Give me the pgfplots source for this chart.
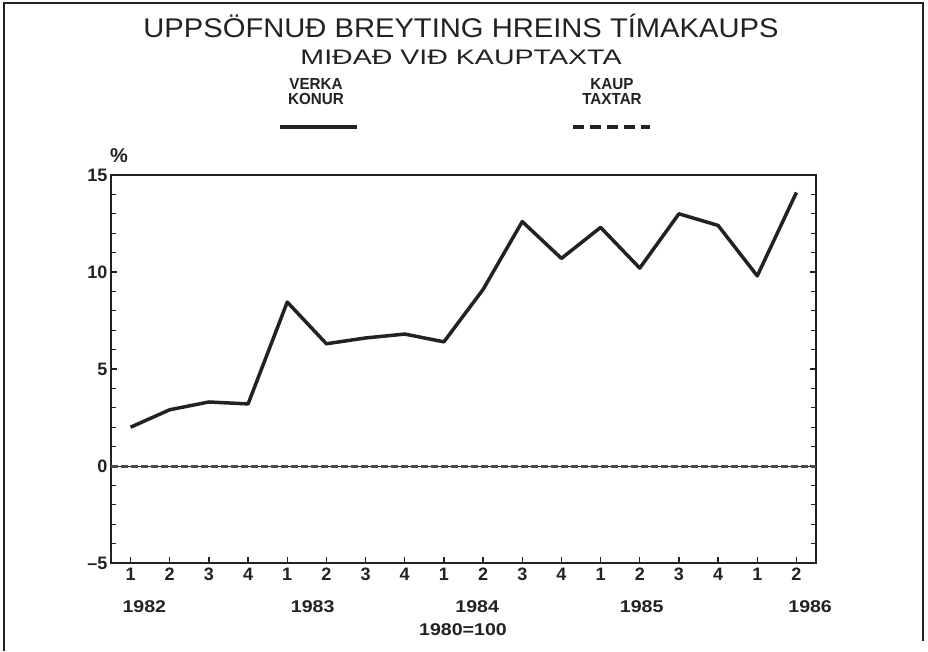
\documentclass[border=0pt]{standalone}
\usepackage{pgfplots}
\pgfplotsset{compat=1.18}
\usepackage{fontspec}
\setmainfont{Liberation Sans}
\definecolor{ink}{HTML}{222222}
\begin{document}
\begin{tikzpicture}
\path[use as bounding box] (0pt,0pt) rectangle (928pt,651pt);
\draw[line width=1.3pt, ink] (4pt,0pt) -- (4pt,648pt) -- (923pt,648pt) -- (923pt,10pt);
\node[font=\fontsize{27}{27}\selectfont, ink] at (461pt,625pt) {\scalebox{1.08}[1]{UPPSÖFNUÐ BREYTING HREINS TÍMAKAUPS}};
\node[font=\fontsize{21}{21}\selectfont, ink] at (461pt,594pt) {\scalebox{1.36}[1]{MIÐAÐ VIÐ KAUPTAXTA}};
\node[font=\fontsize{16}{15}\selectfont\bfseries, ink, align=center, inner sep=0pt] at (316pt,559pt) {\scalebox{0.95}[1]{VERKA}\\\scalebox{0.95}[1]{KONUR}};
\node[font=\fontsize{16}{15}\selectfont\bfseries, ink, align=center, inner sep=0pt] at (612pt,559pt) {\scalebox{0.95}[1]{KAUP}\\\scalebox{0.95}[1]{TAXTAR}};
\draw[line width=3.5pt, ink] (280pt,524pt) -- (357pt,524pt);
\draw[line width=3.5pt, ink, dash pattern=on 11pt off 6pt] (573pt,524pt) -- (650pt,524pt);
\node[font=\fontsize{20}{20}\selectfont\bfseries, ink] at (119pt,495pt) {\%};
\node[font=\fontsize{17}{17}\selectfont\bfseries, ink] at (463pt,21pt) {\scalebox{1.15}[1]{1980=100}};
\begin{axis}[
  at={(111pt,88pt)}, anchor=south west, scale only axis,
  width=705pt, height=388pt,
  xmin=0.5, xmax=18.5, ymin=-5, ymax=15,
  xtick={1,...,18},
  xticklabels={1,2,3,4,1,2,3,4,1,2,3,4,1,2,3,4,1,2},
  ytick={-5,0,5,10,15},
  yticklabels={--5,0,5,10,15},
  minor ytick={-4,-3,-2,-1,1,2,3,4,6,7,8,9,11,12,13,14},
  xtick pos=lower, ytick pos=both,
  tick align=inside,
  major tick length=6pt, minor tick length=5pt,
  axis line style={line width=1.6pt, ink},
  every tick/.style={line width=1.2pt, ink},
  tick label style={font=\fontsize{18}{18}\selectfont\bfseries, text=ink},
  /pgf/number format/assume math mode=true,
  xticklabel style={yshift=-1pt, text height=13pt, text depth=0pt},
  yticklabel style={xshift=0pt},
  clip=false,
]
\addplot[line width=1pt, ink] coordinates {(0.5,0) (18.5,0)};
\addplot[line width=3pt, gray!60!black, dash pattern=on 7pt off 3pt] coordinates {(0.5,0) (18.5,0)};
\addplot[line width=3.5pt, ink, line join=round] coordinates {
(1,2.0) (2,2.9) (3,3.3) (4,3.2)
(5,8.45) (6,6.3) (7,6.6) (8,6.8)
(9,6.4) (10,9.1) (11,12.6) (12,10.7)
(13,12.3) (14,10.2) (15,13.0) (16,12.4)
(17,9.8) (18,14.1)};
\foreach \yr/\xx in {1982/1.35,1983/5.65,1984/9.85,1985/14.05,1986/18.35} {
  \edef\tmp{\noexpand\node[font=\noexpand\fontsize{17}{17}\noexpand\selectfont\noexpand\bfseries, text=ink] at (axis cs:\xx,-5) [yshift=-44pt] {\noexpand\scalebox{1.15}[1]{\yr}};}
  \tmp
}
\end{axis}
\end{tikzpicture}
\end{document}
